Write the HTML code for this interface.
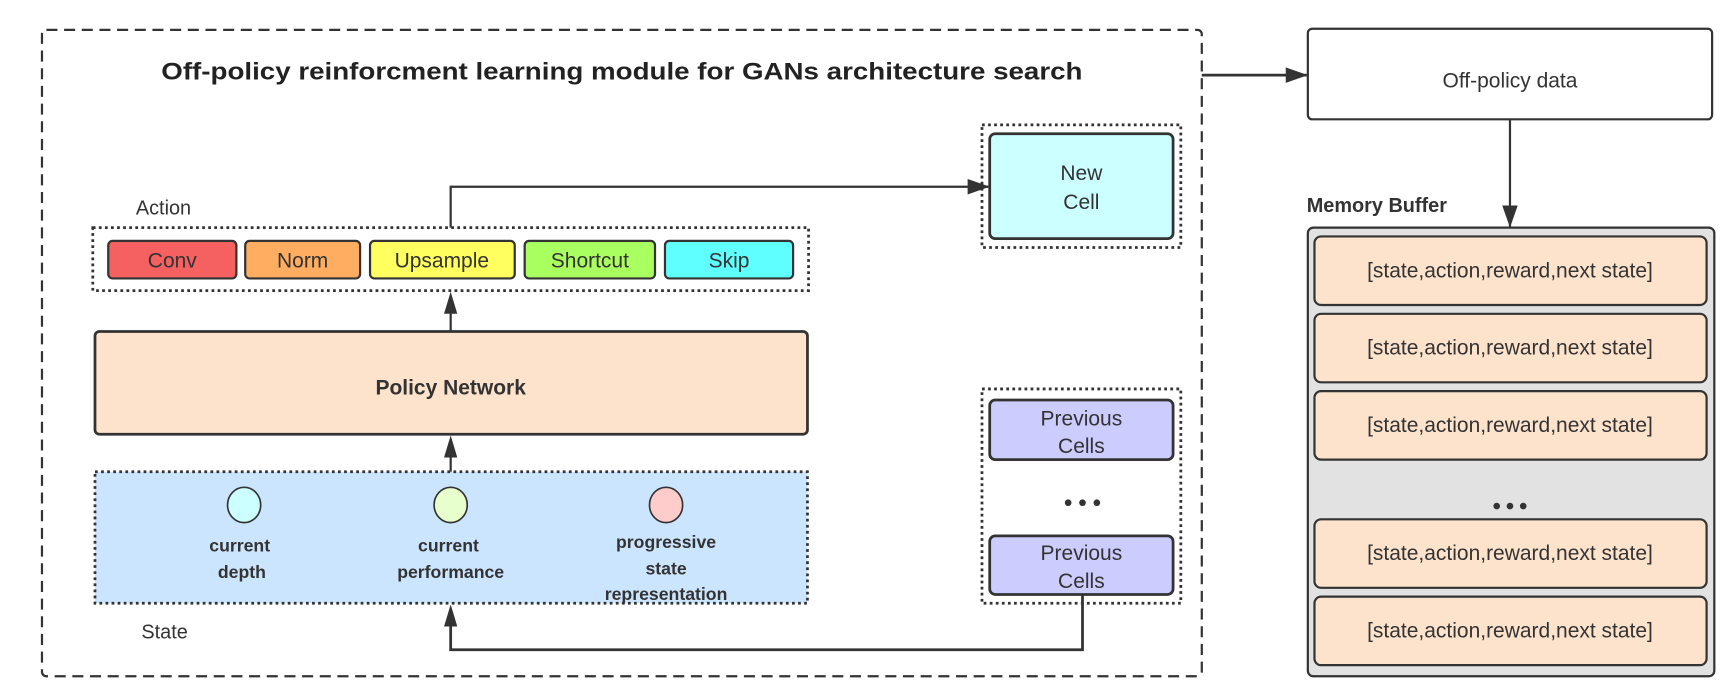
<!DOCTYPE html>
<html><head><meta charset="utf-8"><style>
html,body{margin:0;padding:0;background:#fff;}
svg{display:block;}
text{font-family:"Liberation Sans",sans-serif;fill:#333;}
</style></head><body>
<svg width="1732" height="695" viewBox="0 0 1568 629" preserveAspectRatio="none" xmlns="http://www.w3.org/2000/svg">
<defs>
<marker id="ah2" markerWidth="20" markerHeight="14" refX="19" refY="7" orient="auto" markerUnits="userSpaceOnUse">
<path d="M0,0 L20,7 L0,14 z" fill="#333"/>
</marker>
</defs>
<rect x="38" y="27" width="1050" height="585" rx="4" fill="none" stroke="#333" stroke-width="2" stroke-dasharray="10,6"/>
<text x="563" y="72" font-size="22" text-anchor="middle" textLength="834" lengthAdjust="spacingAndGlyphs" style="fill:#222;font-weight:600">Off‑policy reinforcment learning module for GANs architecture search</text>
<line x1="1088" y1="68" x2="1183" y2="68" stroke="#333" stroke-width="2.5" marker-end="url(#ah2)"/>
<rect x="1184" y="26" width="366" height="82" rx="4" fill="#fff" stroke="#333" stroke-width="2"/>
<text x="1367" y="79" font-size="19" text-anchor="middle">Off‑policy data</text>
<line x1="1367" y1="108" x2="1367" y2="205" stroke="#333" stroke-width="2" marker-end="url(#ah2)"/>
<text x="1183" y="192" font-size="18" font-weight="bold" style="fill:#333">Memory Buffer</text>
<rect x="1184" y="206" width="368" height="406" rx="5" fill="#e2e2e2" stroke="#333" stroke-width="2"/>
<g font-size="19" text-anchor="middle">
<rect x="1190" y="214" width="355" height="62" rx="6" fill="#fde3cc" stroke="#333" stroke-width="2"/>
<text x="1367" y="251">[state,action,reward,next state]</text>
<rect x="1190" y="284" width="355" height="62" rx="6" fill="#fde3cc" stroke="#333" stroke-width="2"/>
<text x="1367" y="321">[state,action,reward,next state]</text>
<rect x="1190" y="354" width="355" height="62" rx="6" fill="#fde3cc" stroke="#333" stroke-width="2"/>
<text x="1367" y="391">[state,action,reward,next state]</text>
<rect x="1190" y="470" width="355" height="62" rx="6" fill="#fde3cc" stroke="#333" stroke-width="2"/>
<text x="1367" y="507">[state,action,reward,next state]</text>
<rect x="1190" y="540" width="355" height="62" rx="6" fill="#fde3cc" stroke="#333" stroke-width="2"/>
<text x="1367" y="577">[state,action,reward,next state]</text>
</g>
<circle cx="1355" cy="458" r="3" fill="#333"/><circle cx="1367" cy="458" r="3" fill="#333"/><circle cx="1379" cy="458" r="3" fill="#333"/>
<text x="123" y="194" font-size="18">Action</text>
<rect x="84" y="206" width="648" height="57" fill="none" stroke="#333" stroke-width="2.5" stroke-dasharray="2.5,3"/>
<g font-size="19" text-anchor="middle">
<rect x="98" y="218" width="116" height="34" rx="4" fill="#f56060" stroke="#333" stroke-width="2"/><text x="156" y="242">Conv</text>
<rect x="222" y="218" width="104" height="34" rx="4" fill="#ffad60" stroke="#333" stroke-width="2"/><text x="274" y="242">Norm</text>
<rect x="335" y="218" width="131" height="34" rx="4" fill="#ffff60" stroke="#333" stroke-width="2"/><text x="400" y="242">Upsample</text>
<rect x="475" y="218" width="118" height="34" rx="4" fill="#aaff60" stroke="#333" stroke-width="2"/><text x="534" y="242">Shortcut</text>
<rect x="602" y="218" width="116" height="34" rx="4" fill="#60ffff" stroke="#333" stroke-width="2"/><text x="660" y="242">Skip</text>
</g>
<polyline points="408,206 408,169 895,169" fill="none" stroke="#333" stroke-width="2" marker-end="url(#ah2)"/>
<rect x="889" y="113" width="180" height="111" fill="none" stroke="#333" stroke-width="2.5" stroke-dasharray="2.5,3"/>
<rect x="896" y="121" width="166" height="95" rx="5" fill="#ccffff" stroke="#333" stroke-width="2.5"/>
<text x="979" y="163" font-size="19" text-anchor="middle">New</text>
<text x="979" y="189" font-size="19" text-anchor="middle">Cell</text>
<line x1="408" y1="300" x2="408" y2="280" stroke="#333" stroke-width="2"/>
<polygon points="402,284 408,264 414,284" fill="#333"/>
<rect x="86" y="300" width="645" height="93" rx="4" fill="#fde3cc" stroke="#333" stroke-width="2.5"/>
<text x="408" y="357" font-size="19" font-weight="bold" text-anchor="middle">Policy Network</text>
<line x1="408" y1="427" x2="408" y2="410" stroke="#333" stroke-width="2"/>
<polygon points="402,414 408,394 414,414" fill="#333"/>
<rect x="86" y="427" width="645" height="119" fill="#cce5ff" stroke="#333" stroke-width="2.5" stroke-dasharray="2.5,3"/>
<ellipse cx="221" cy="457" rx="15" ry="16" fill="#ccffff" stroke="#333" stroke-width="1.5"/>
<ellipse cx="408" cy="457" rx="15" ry="16" fill="#e6ffcc" stroke="#333" stroke-width="1.5"/>
<ellipse cx="603" cy="457" rx="15" ry="16" fill="#ffcccc" stroke="#333" stroke-width="1.5"/>
<g font-size="16" text-anchor="middle" font-weight="bold">
<text x="217" y="499">current</text><text x="219" y="523">depth</text>
<text x="406" y="499">current</text><text x="408" y="523">performance</text>
<text x="603" y="496">progressive</text><text x="603" y="520">state</text><text x="603" y="543">representation</text>
</g>
<text x="128" y="578" font-size="18">State</text>
<rect x="889" y="352" width="180" height="194" fill="none" stroke="#333" stroke-width="2.5" stroke-dasharray="2.5,3"/>
<rect x="896" y="362" width="166" height="54" rx="5" fill="#ccccff" stroke="#333" stroke-width="2.5"/>
<text x="979" y="385" font-size="19" text-anchor="middle">Previous</text>
<text x="979" y="410" font-size="19" text-anchor="middle">Cells</text>
<circle cx="967" cy="455" r="3" fill="#333"/><circle cx="980" cy="455" r="3" fill="#333"/><circle cx="993" cy="455" r="3" fill="#333"/>
<rect x="896" y="485" width="166" height="53" rx="5" fill="#ccccff" stroke="#333" stroke-width="2.5"/>
<text x="979" y="507" font-size="19" text-anchor="middle">Previous</text>
<text x="979" y="532" font-size="19" text-anchor="middle">Cells</text>
<polyline points="980,538 980,588 408,588 408,562" fill="none" stroke="#333" stroke-width="2.5"/>
<polygon points="402,567 408,547 414,567" fill="#333"/>
</svg>
</body></html>
